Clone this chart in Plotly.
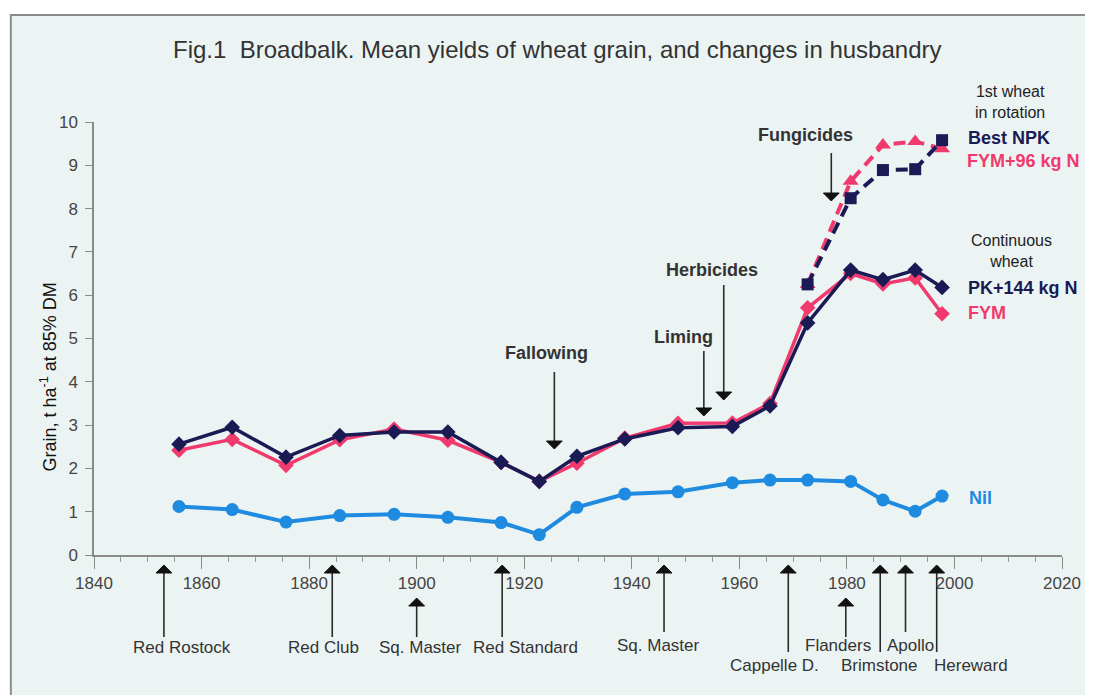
import plotly.graph_objects as go

# ---------------- data ----------------
years = [1855.8, 1865.7, 1875.7, 1885.7, 1895.8, 1905.8, 1915.7, 1922.8, 1929.8,
         1938.7, 1948.6, 1958.7, 1965.7, 1972.7, 1980.7, 1986.7, 1992.7, 1997.7]
pk144 = [2.56, 2.95, 2.26, 2.76, 2.84, 2.84, 2.14, 1.70, 2.28,
         2.68, 2.94, 2.97, 3.44, 5.36, 6.58, 6.36, 6.58, 6.18]
fym = [2.42, 2.67, 2.07, 2.66, 2.91, 2.65, 2.14, 1.70, 2.12,
       2.70, 3.04, 3.05, 3.50, 5.71, 6.50, 6.26, 6.40, 5.57]
nil = [1.12, 1.05, 0.76, 0.91, 0.94, 0.87, 0.75, 0.47, 1.10,
       1.41, 1.46, 1.67, 1.73, 1.73, 1.70, 1.27, 1.01, 1.36]

rot_years = [1972.7, 1980.7, 1986.7, 1992.7, 1997.7]
best_npk = [6.25, 8.24, 8.89, 8.91, 9.58]
fym96 = [6.25, 8.63, 9.47, 9.55, 9.38]

variety_names = ["Red Rostock", "Red Club", "Sq. Master", "Red Standard", "Sq. Master",
                 "Cappelle D.", "Flanders", "Brimstone", "Apollo", "Hereward"]
variety_years = [1853.0, 1884.3, 1900.0, 1915.9, 1946.0, 1969.1, 1979.8, 1986.2, 1990.9, 1996.7]

husbandry_names = ["Fallowing", "Liming", "Herbicides", "Fungicides"]
husbandry_years = [1925.6, 1953.4, 1957.1, 1977.1]

x_ticks = [1840, 1860, 1880, 1900, 1920, 1940, 1960, 1980, 2000, 2020]
y_ticks = list(range(0, 11))

# ---------------- layout geometry (screen pixels) ----------------
OFF = 8                     # default page body margin
SW, SH = 1093, 695          # screen size
W, H = SW - OFF, SH - OFF   # figure size
L, T = 94 - OFF, 122 - OFF
PW, PH = 978, 433
R = W - L - PW
B = H - T - PH
X0, X1 = 1840, 2020
FONT = "Liberation Sans, Arial, sans-serif"


def px_x(px):
    return (px - OFF - L) / PW


def px_y(py):
    return (T + PH - (py - OFF)) / PH


def year_to_paper(yr):
    return (yr - X0) / (X1 - X0)


NAVY = "#1a1a55"
PINK = "#f03a6e"
BLUE = "#1f8be0"
BG = "#ecf4f3"
ARROW = "#2a2a2a"

fig = go.Figure()

fig.add_trace(go.Scatter(x=years, y=nil, mode="lines+markers", name="Nil",
                         line=dict(color=BLUE, width=4),
                         marker=dict(symbol="circle", size=13, color=BLUE)))
fig.add_trace(go.Scatter(x=years, y=fym, mode="lines+markers", name="FYM",
                         line=dict(color=PINK, width=3.5),
                         marker=dict(symbol="diamond", size=12, color=PINK)))
fig.add_trace(go.Scatter(x=years, y=pk144, mode="lines+markers", name="PK+144 kg N",
                         line=dict(color=NAVY, width=3.5),
                         marker=dict(symbol="diamond", size=12, color=NAVY)))
fig.add_trace(go.Scatter(x=rot_years, y=fym96, mode="lines+markers", name="FYM+96 kg N",
                         line=dict(color=PINK, width=4, dash="12px,7px"),
                         marker=dict(symbol="triangle-up", size=14, color=PINK)))
fig.add_trace(go.Scatter(x=rot_years, y=best_npk, mode="lines+markers", name="Best NPK",
                         line=dict(color=NAVY, width=4, dash="12px,7px"),
                         marker=dict(symbol="square", size=12, color=NAVY)))

shapes = []
annotations = []

# background frame
shapes.append(dict(type="rect", xref="paper", yref="paper", layer="below",
                   x0=px_x(10), x1=px_x(1120), y0=px_y(720), y1=px_y(15),
                   fillcolor=BG, line=dict(color="#8c8c8c", width=2)))


def arrow(yr, tail_py, tip_py):
    xp = year_to_paper(yr)
    hw = 8 / PW
    hh = 8 / PH
    yt = px_y(tip_py)
    ytail = px_y(tail_py)
    if tip_py < tail_py:  # pointing up
        ybase = yt - hh
    else:
        ybase = yt + hh
    shapes.append(dict(type="line", xref="paper", yref="paper",
                       x0=xp, x1=xp, y0=ytail, y1=ybase,
                       line=dict(color=ARROW, width=1.6)))
    shapes.append(dict(type="path", xref="paper", yref="paper",
                       path=f"M {xp - hw},{ybase} L {xp + hw},{ybase} L {xp},{yt} Z",
                       fillcolor="#111111", line=dict(color="#111111", width=1)))


def label(text, px, py, size=16, color="#333333", bold=False, anchor="center"):
    t = f"<b>{text}</b>" if bold else text
    annotations.append(dict(text=t, xref="paper", yref="paper", x=px_x(px), y=px_y(py),
                            xanchor=anchor, yanchor="middle", showarrow=False,
                            font=dict(size=size, color=color, family=FONT)))


# variety arrows (tip, tail, label position)
variety_geom = [(565, 637, 183, 647), (565, 637, 326, 647), (598, 637, 424, 647),
                (565, 637, 530, 647), (565, 632, 664, 645), (565, 652, 782, 665),
                (598, 637, 846, 645), (565, 652, 888, 665), (565, 632, 919, 645),
                (565, 652, 980, 665)]
for name, yr, g in zip(variety_names, variety_years, variety_geom):
    tip, tail, lx, ly = g
    arrow(yr, tail, tip)
    label(name, lx, ly, size=17, color="#333333")

# husbandry arrows (top, tip, label position)
husb_geom = [(372, 449, 551, 353), (351, 416, 690, 337), (285, 400, 718, 270), (153, 201, 813, 135)]
for name, yr, g in zip(husbandry_names, husbandry_years, husb_geom):
    top, tip, lx, ly = g
    arrow(yr, top, tip)
    label(name, lx, ly, size=18, color="#333333", bold=True)

# title
label("Fig.1  Broadbalk. Mean yields of wheat grain, and changes in husbandry", 172, 50,
      size=24, color="#333333", anchor="left")

# right-hand series labels
label("1st wheat<br>in rotation", 1019, 102, size=16, color="#222222")
label("Best NPK", 975, 138, size=18, color=NAVY, bold=True, anchor="left")
label("FYM+96 kg N", 974, 161, size=18, color=PINK, bold=True, anchor="left")
label("Continuous<br>wheat", 1021, 251, size=16, color="#222222")
label("PK+144 kg N", 975, 288, size=18, color=NAVY, bold=True, anchor="left")
label("FYM", 975, 313, size=18, color=PINK, bold=True, anchor="left")
label("Nil", 976, 498, size=18, color=BLUE, bold=True, anchor="left")

# y axis title
annotations.append(dict(text="Grain, t ha<sup>-1</sup> at 85% DM", xref="paper", yref="paper",
                        x=px_x(48), y=px_y(377), textangle=-90, showarrow=False,
                        xanchor="center", yanchor="middle",
                        font=dict(size=18, color="#111111", family=FONT)))

fig.update_layout(
    width=W, height=H,
    margin=dict(l=L, r=R, t=T, b=B, pad=0),
    paper_bgcolor="white",
    plot_bgcolor="rgba(0,0,0,0)",
    showlegend=False,
    shapes=shapes,
    annotations=annotations,
    font=dict(family=FONT, color="#444444"),
    xaxis=dict(range=[X0, X1], tickvals=x_ticks, ticktext=[str(v) for v in x_ticks],
               showgrid=False, zeroline=False, showline=True, linecolor="#8a8a8a", linewidth=1.5,
               ticks="outside", ticklen=12, tickcolor="#8a8a8a", tickwidth=1.2,
               ticklabelstandoff=0,
               minor=dict(dtick=5, tick0=1840, ticks="outside", ticklen=5, tickcolor="#9a9a9a"),
               tickfont=dict(size=17, color="#444444")),
    yaxis=dict(range=[0, 10], tickvals=y_ticks, showgrid=False, zeroline=False,
               showline=True, linecolor="#8a8a8a", linewidth=1.5,
               ticks="outside", ticklen=7, tickcolor="#8a8a8a", ticklabelstandoff=4,
               tickfont=dict(size=17, color="#444444")),
)

fig.write_html("out.html")
